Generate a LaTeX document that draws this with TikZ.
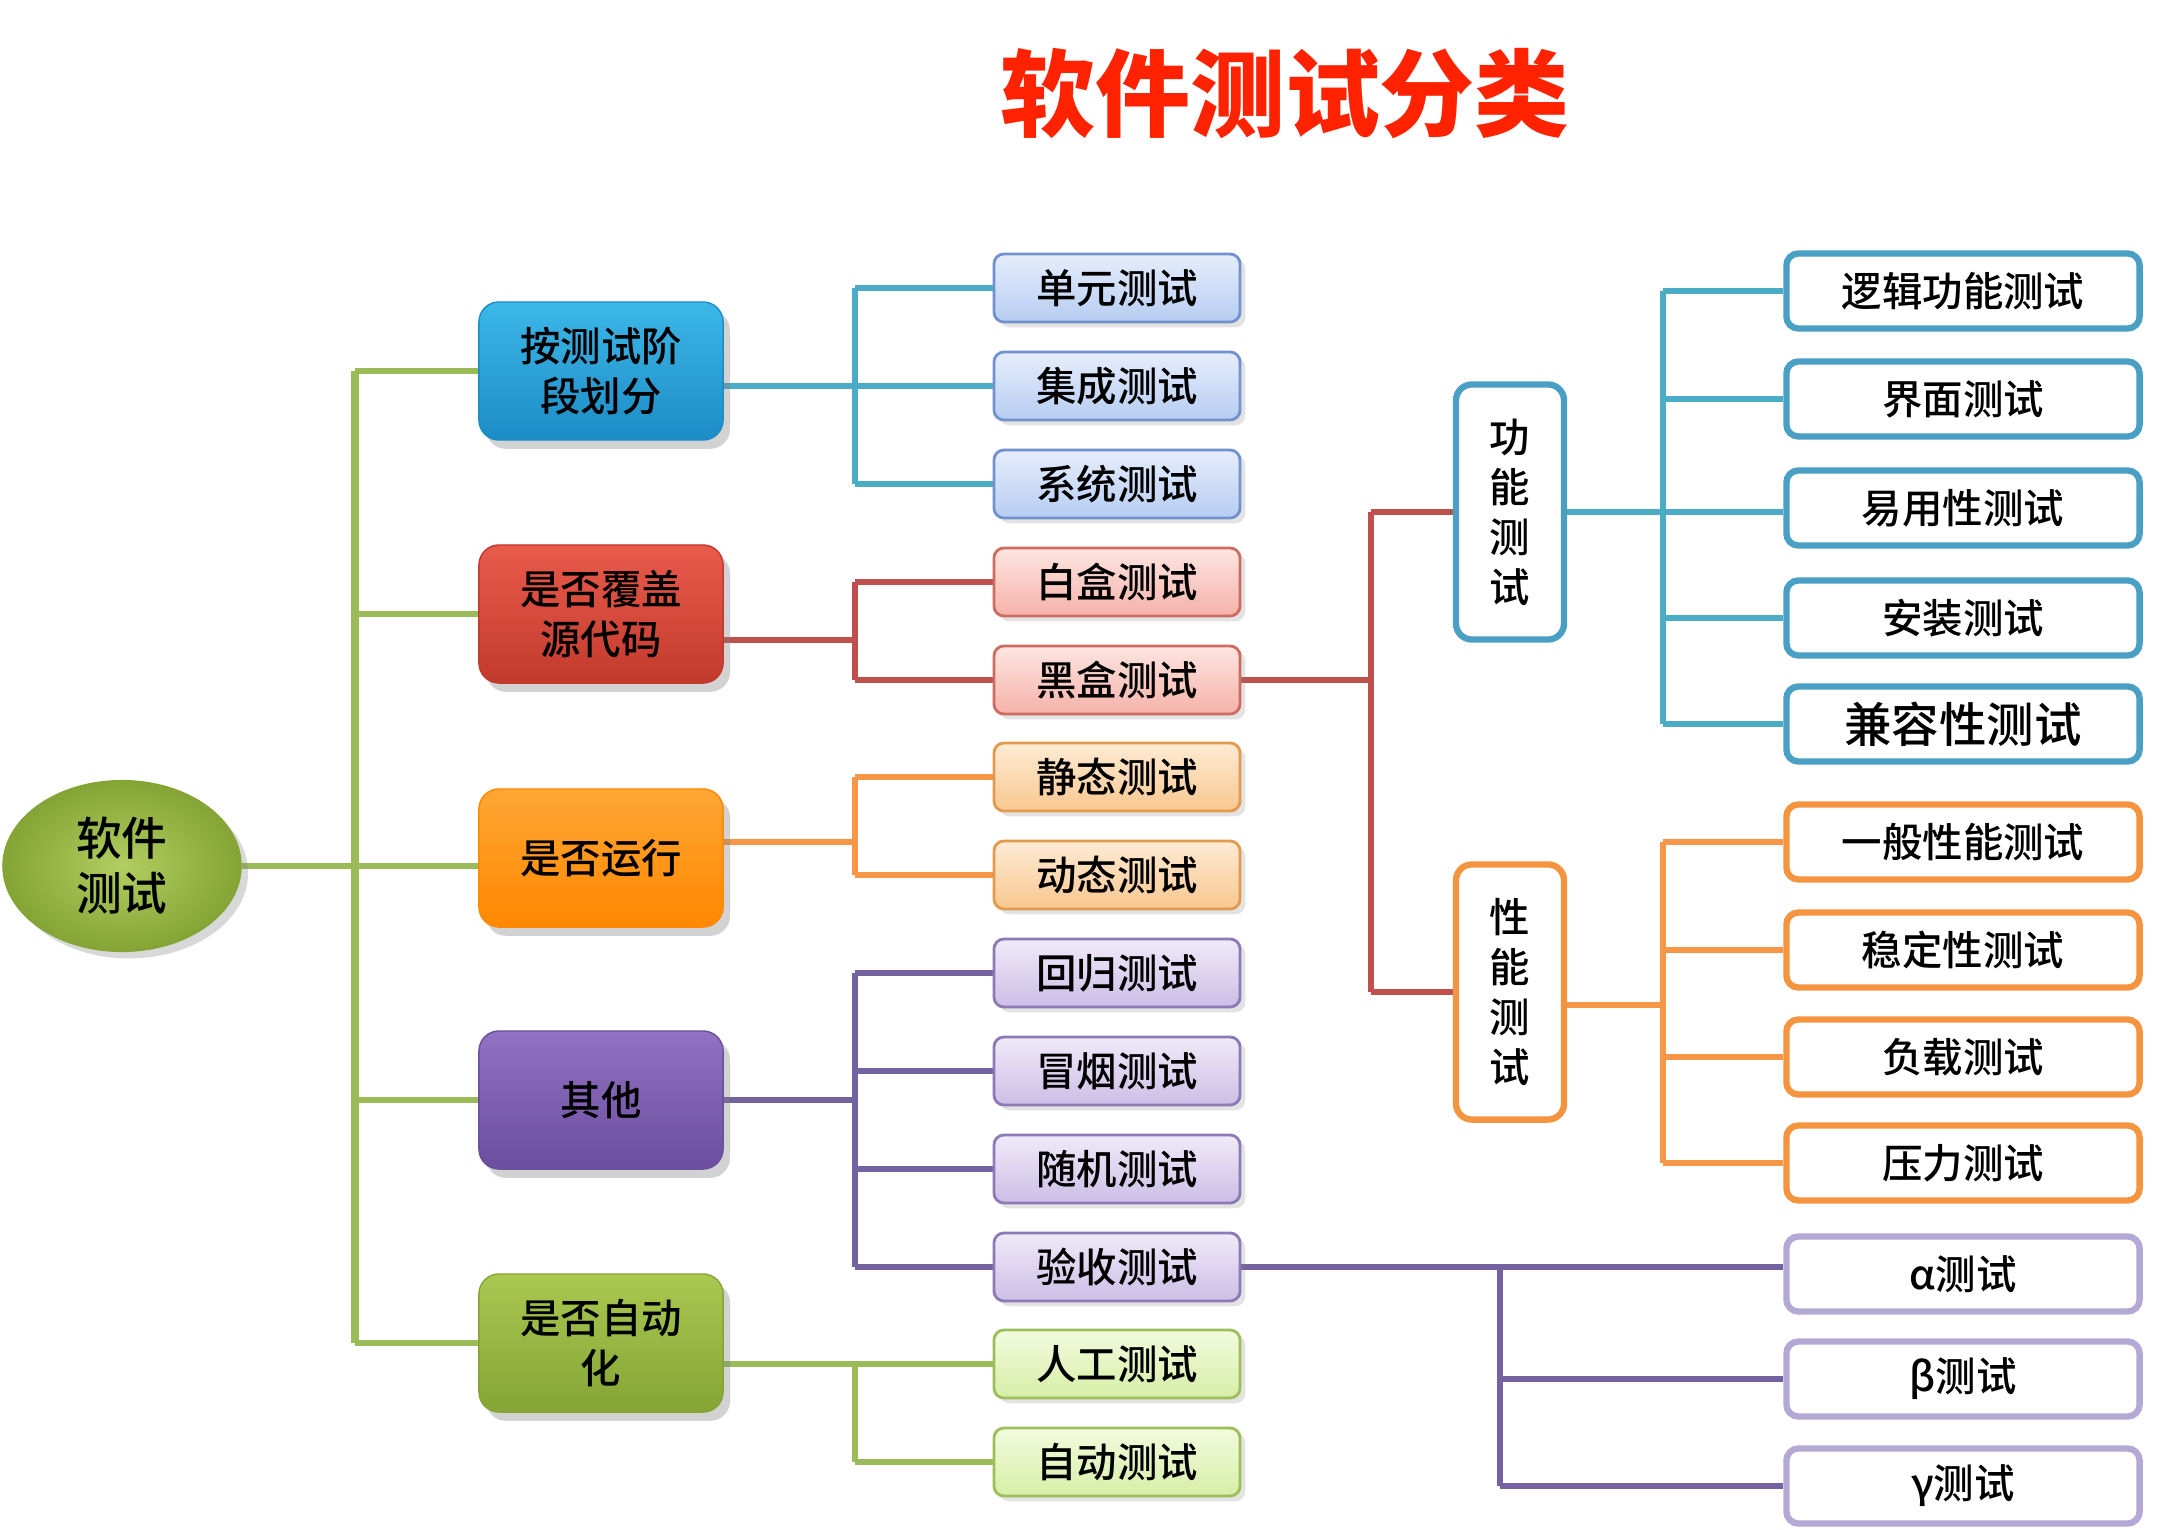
\documentclass[tikz,border=0pt]{standalone}
\usepackage{fontspec}
\setmainfont{Noto Sans CJK SC}
\newfontfamily\medfont{Noto Sans CJK SC Medium}
\usetikzlibrary{shadows,shapes.geometric,shadings,backgrounds}
\definecolor{cgreen}{HTML}{9BBB59}
\definecolor{cblue}{HTML}{4BACC6}
\definecolor{cred}{HTML}{C0504D}
\definecolor{corange}{HTML}{F79646}
\definecolor{cpurple}{HTML}{7562A0}
\definecolor{titlered}{HTML}{FF2200}
% level-1 fills
\definecolor{lbT}{HTML}{3DB7E8}\definecolor{lbB}{HTML}{1C8CC6}
\definecolor{lrT}{HTML}{E95B4B}\definecolor{lrB}{HTML}{C23A2D}
\definecolor{loT}{HTML}{FFA634}\definecolor{loB}{HTML}{FF8800}
\definecolor{lpT}{HTML}{9172C2}\definecolor{lpB}{HTML}{6C4E9E}
\definecolor{lgT}{HTML}{AAC850}\definecolor{lgB}{HTML}{84A435}
% level-2 fills
\definecolor{sbT}{HTML}{E6EEFC}\definecolor{sbB}{HTML}{B6CCF2}\definecolor{sbD}{HTML}{7292CF}
\definecolor{srT}{HTML}{FDE5E1}\definecolor{srB}{HTML}{F5B2A9}\definecolor{srD}{HTML}{CD6D62}
\definecolor{soT}{HTML}{FEEBD5}\definecolor{soB}{HTML}{F8C78F}\definecolor{soD}{HTML}{E39A4E}
\definecolor{spT}{HTML}{F0EAF8}\definecolor{spB}{HTML}{CCBEE6}\definecolor{spD}{HTML}{8C7AB6}
\definecolor{sgT}{HTML}{F3FBDE}\definecolor{sgB}{HTML}{D6EEA6}\definecolor{sgD}{HTML}{9DBE5A}
% right boxes
\definecolor{rbD}{HTML}{4A9FC4}
\definecolor{roD}{HTML}{F5943F}
\definecolor{rpD}{HTML}{B4A8D4}
\begin{document}
\begin{tikzpicture}[x=0.01cm,y=-0.01cm,
  txt/.style={font=\medfont\fontsize{11.5}{14.2}\selectfont, text=black},
  lone/.style={rounded corners=0.2cm, minimum width=2.44cm, minimum height=1.38cm,
    align=center, txt, line width=0.4pt,
    drop shadow={opacity=0.35, shadow xshift=2pt, shadow yshift=-2.5pt}},
  ltwo/.style={rounded corners=0.1cm, minimum width=2.46cm, minimum height=0.68cm,
    txt, line width=0.8pt,
    drop shadow={opacity=0.22, shadow xshift=1.5pt, shadow yshift=-1.5pt}},
  rbox/.style={rounded corners=0.12cm, minimum width=3.53cm, minimum height=0.75cm,
    fill=white, line width=1.8pt, txt},
  vbox/.style={rounded corners=0.16cm, minimum width=1.08cm, minimum height=2.55cm,
    fill=white, line width=1.8pt, txt, align=center, draw},
  conn/.style={line width=1.75pt},
]
\useasboundingbox (0,0) rectangle (2172,1530);

% title
\node[font=\fontsize{27}{32}\selectfont\bfseries, text=titlered] (title) at (1285,94) {软件测试分类};

% root
\node[ellipse, minimum width=2.38cm, minimum height=1.66cm, inner color=lgT!90!white, outer color=lgB,
  draw=lgB, align=center, font=\medfont\fontsize{13}{15.6}\selectfont,
  drop shadow={opacity=0.3, shadow xshift=2pt, shadow yshift=-2pt}] (root) at (122,866) {软件\\测试};

% level 1
\node[lone, top color=lbT, bottom color=lbB, draw=lbB] (a) at (601,371) {按测试阶\\段划分};
\node[lone, top color=lrT, bottom color=lrB, draw=lrB] (b) at (601,614) {是否覆盖\\源代码};
\node[lone, top color=loT, bottom color=loB, draw=loB] (c) at (601,858) {是否运行};
\node[lone, top color=lpT, bottom color=lpB, draw=lpB] (d) at (601,1100) {其他};
\node[lone, top color=lgT, bottom color=lgB, draw=lgB] (e) at (601,1343) {是否自动\\化};

% level 2
\node[ltwo, top color=sbT, bottom color=sbB, draw=sbD] (a1) at (1117,288) {单元测试};
\node[ltwo, top color=sbT, bottom color=sbB, draw=sbD] (a2) at (1117,386) {集成测试};
\node[ltwo, top color=sbT, bottom color=sbB, draw=sbD] (a3) at (1117,484) {系统测试};
\node[ltwo, top color=srT, bottom color=srB, draw=srD] (b1) at (1117,582) {白盒测试};
\node[ltwo, top color=srT, bottom color=srB, draw=srD] (b2) at (1117,680) {黑盒测试};
\node[ltwo, top color=soT, bottom color=soB, draw=soD] (c1) at (1117,777) {静态测试};
\node[ltwo, top color=soT, bottom color=soB, draw=soD] (c2) at (1117,875) {动态测试};
\node[ltwo, top color=spT, bottom color=spB, draw=spD] (d1) at (1117,973) {回归测试};
\node[ltwo, top color=spT, bottom color=spB, draw=spD] (d2) at (1117,1071) {冒烟测试};
\node[ltwo, top color=spT, bottom color=spB, draw=spD] (d3) at (1117,1169) {随机测试};
\node[ltwo, top color=spT, bottom color=spB, draw=spD] (d4) at (1117,1267) {验收测试};
\node[ltwo, top color=sgT, bottom color=sgB, draw=sgD] (e1) at (1117,1364) {人工测试};
\node[ltwo, top color=sgT, bottom color=sgB, draw=sgD] (e2) at (1117,1462) {自动测试};

% vertical boxes
\node[vbox, draw=rbD] (fn) at (1510,512) {功\\能\\测\\试};
\node[vbox, draw=roD] (pf) at (1510,992) {性\\能\\测\\试};

% right boxes
\node[rbox, draw=rbD] (f1) at (1963,291) {逻辑功能测试};
\node[rbox, draw=rbD] (f2) at (1963,399) {界面测试};
\node[rbox, draw=rbD] (f3) at (1963,508) {易用性测试};
\node[rbox, draw=rbD] (f4) at (1963,618) {安装测试};
\node[rbox, draw=rbD, font=\medfont\fontsize{13.5}{16}\selectfont] (f5) at (1963,724) {兼容性测试};
\node[rbox, draw=roD] (p1) at (1963,842) {一般性能测试};
\node[rbox, draw=roD] (p2) at (1963,950) {稳定性测试};
\node[rbox, draw=roD] (p3) at (1963,1057) {负载测试};
\node[rbox, draw=roD] (p4) at (1963,1163) {压力测试};
\node[rbox, draw=rpD] (g1) at (1963,1274) {α测试};
\node[rbox, draw=rpD] (g2) at (1963,1379) {β测试};
\node[rbox, draw=rpD] (g3) at (1963,1486) {γ测试};

% bus coordinates
\coordinate (tA) at (355,371);
\coordinate (tB) at (355,614);
\coordinate (tD) at (355,1100);
\coordinate (tE) at (355,1343);
\coordinate (ba1) at (855,288);
\coordinate (ba3) at (855,484);
\coordinate (bb) at (855,640);
\coordinate (bb1) at (855,582);
\coordinate (bb2) at (855,680);
\coordinate (bc) at (855,842);
\coordinate (bc1) at (855,777);
\coordinate (bc2) at (855,875);
\coordinate (bd) at (855,1100);
\coordinate (bd1) at (855,973);
\coordinate (bd4) at (855,1267);
\coordinate (be1) at (855,1364);
\coordinate (be2) at (855,1462);
\coordinate (rr1) at (1371,512);
\coordinate (rr) at (1371,680);
\coordinate (rr2) at (1371,992);
\coordinate (bf1) at (1663,291);
\coordinate (bf5) at (1663,724);
\coordinate (bp) at (1663,1005);
\coordinate (bp1) at (1663,842);
\coordinate (bp4) at (1663,1163);
\coordinate (bg1) at (1500,1267);
\coordinate (bg3) at (1500,1486);

\begin{scope}[on background layer]
\fill[white] (0,0) rectangle (2172,1530);
% green trunk
\draw[conn, cgreen, line width=2pt] (tA) -- (tE);
\draw[conn, cgreen] (root.east) -- (root.east -| c.west);
\draw[conn, cgreen] (tA) -- (a.west);
\draw[conn, cgreen] (tB) -- (b.west);
\draw[conn, cgreen] (tD) -- (d.west);
\draw[conn, cgreen] (tE) -- (e.west);
% blue
\draw[conn, cblue] (ba1) -- (ba3);
\draw[conn, cblue] (ba1) -- (a1.west);
\draw[conn, cblue] (ba3) -- (a3.west);
\draw[conn, cblue] (a.east |- a2.west) -- (a2.west);
% red
\draw[conn, cred] (b.east |- bb) -- (bb);
\draw[conn, cred] (bb1) -- (bb2);
\draw[conn, cred] (bb1) -- (b1.west);
\draw[conn, cred] (bb2) -- (b2.west);
% orange
\draw[conn, corange] (c.east |- bc) -- (bc);
\draw[conn, corange] (bc1) -- (bc2);
\draw[conn, corange] (bc1) -- (c1.west);
\draw[conn, corange] (bc2) -- (c2.west);
% purple
\draw[conn, cpurple] (d.east) -- (bd);
\draw[conn, cpurple] (bd1) -- (bd4);
\draw[conn, cpurple] (bd1) -- (d1.west);
\draw[conn, cpurple] (bd1 |- d2.west) -- (d2.west);
\draw[conn, cpurple] (bd1 |- d3.west) -- (d3.west);
\draw[conn, cpurple] (bd4) -- (d4.west);
% green l2
\draw[conn, cgreen] (e.east |- e1.west) -- (e1.west);
\draw[conn, cgreen] (be1) -- (be2);
\draw[conn, cgreen] (be2) -- (e2.west);
% red right
\draw[conn, cred] (b2.east) -- (rr);
\draw[conn, cred] (rr1) -- (rr2);
\draw[conn, cred] (rr1) -- (fn.west);
\draw[conn, cred] (rr2) -- (pf.west);
% blue right
\draw[conn, cblue] (bf1) -- (bf5);
\draw[conn, cblue] (fn.east) -- (fn.east -| f3.west);
\draw[conn, cblue] (bf1) -- (f1.west);
\draw[conn, cblue] (bf1 |- f2.west) -- (f2.west);
\draw[conn, cblue] (bf1 |- f4.west) -- (f4.west);
\draw[conn, cblue] (bf5) -- (f5.west);
% orange right
\draw[conn, corange] (pf.east |- bp) -- (bp);
\draw[conn, corange] (bp1) -- (bp4);
\draw[conn, corange] (bp1) -- (p1.west);
\draw[conn, corange] (bp1 |- p2.west) -- (p2.west);
\draw[conn, corange] (bp1 |- p3.west) -- (p3.west);
\draw[conn, corange] (bp4) -- (p4.west);
% purple right
\draw[conn, cpurple] (d4.east) -- (d4.east -| g1.west);
\draw[conn, cpurple] (bg1) -- (bg3);
\draw[conn, cpurple] (bg1 |- g2.west) -- (g2.west);
\draw[conn, cpurple] (bg3) -- (g3.west);
\end{scope}
\end{tikzpicture}
\end{document}
